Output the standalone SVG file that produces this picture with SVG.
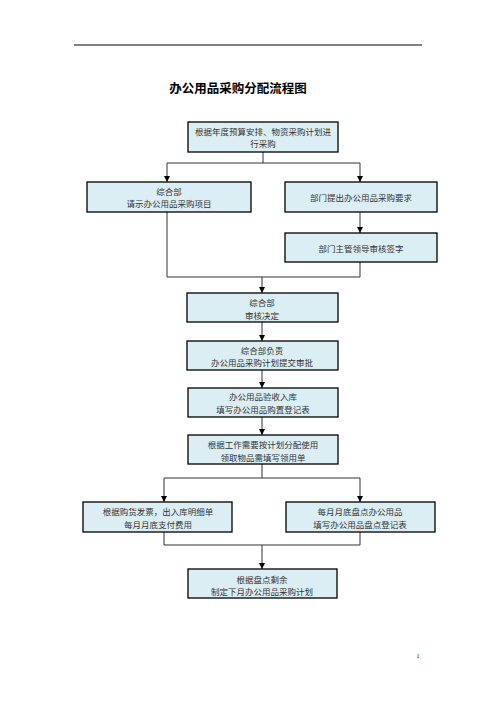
<svg xmlns="http://www.w3.org/2000/svg" width="496" height="702" viewBox="0 0 496 702">
<style>
.box{fill:#dbeef3;stroke:#000;stroke-width:1.3}
.t{font-family:"Liberation Serif","Noto Sans CJK SC",serif;font-size:8.5px;fill:#333;text-anchor:middle;dominant-baseline:central}
.c{fill:none;stroke:#333;stroke-width:1}
</style>
<defs>
<marker id="a" viewBox="0 0 6 6" refX="6" refY="3" markerWidth="6" markerHeight="6" markerUnits="userSpaceOnUse" orient="auto">
<path d="M0,0 L6,3 L0,6 Z" fill="#000"/>
</marker>
</defs>
<rect width="496" height="702" fill="#fff"/>
<line x1="74" y1="45" x2="422" y2="45" stroke="#000" stroke-width="1"/>
<text x="238" y="87" font-family="'Noto Sans CJK SC',sans-serif" font-size="12.5" font-weight="bold" text-anchor="middle" dominant-baseline="central" fill="#000">办公用品采购分配流程图</text>
<g id="connectors">
<path class="c" d="M263,152 V163 M167,163 H360"/>
<path class="c" d="M167,163 V182" marker-end="url(#a)"/>
<path class="c" d="M360,163 V182" marker-end="url(#a)"/>
<path class="c" d="M360,212 V233" marker-end="url(#a)"/>
<path class="c" d="M167,212 V277 H360 V262"/>
<path class="c" d="M262,277 V293" marker-end="url(#a)"/>
<path class="c" d="M262,322 V341" marker-end="url(#a)"/>
<path class="c" d="M262,370 V388" marker-end="url(#a)"/>
<path class="c" d="M262,417 V435" marker-end="url(#a)"/>
<path class="c" d="M262,464 V478 M164,478 H360"/>
<path class="c" d="M164,478 V502" marker-end="url(#a)"/>
<path class="c" d="M360,478 V502" marker-end="url(#a)"/>
<path class="c" d="M164,532 V545 H360 V532"/>
<path class="c" d="M262,545 V569" marker-end="url(#a)"/>
</g>
<g id="n1"><rect class="box" x="188" y="122" width="150" height="30"/><text class="t" x="263" y="132">根据年度预算安排、物资采购计划进</text><text class="t" x="263" y="144">行采购</text></g>
<g id="n2"><rect class="box" x="87" y="182" width="164" height="30"/><text class="t" x="169" y="192">综合部</text><text class="t" x="169" y="204">请示办公用品采购项目</text></g>
<g id="n3"><rect class="box" x="285" y="182" width="152" height="30"/><text class="t" x="361" y="198">部门提出办公用品采购要求</text></g>
<g id="n4"><rect class="box" x="285" y="233" width="152" height="29"/><text class="t" x="361" y="249">部门主管领导审核签字</text></g>
<g id="n5"><rect class="box" x="187" y="293" width="151" height="29"/><text class="t" x="262" y="303">综合部</text><text class="t" x="262" y="316">审核决定</text></g>
<g id="n6"><rect class="box" x="187" y="341" width="151" height="29"/><text class="t" x="262" y="351">综合部负责</text><text class="t" x="262" y="363">办公用品采购计划提交审批</text></g>
<g id="n7"><rect class="box" x="188" y="388" width="150" height="29"/><text class="t" x="263" y="397">办公用品验收入库</text><text class="t" x="263" y="410">填写办公用品购置登记表</text></g>
<g id="n8"><rect class="box" x="188" y="435" width="150" height="29"/><text class="t" x="263" y="445">根据工作需要按计划分配使用</text><text class="t" x="263" y="458">领取物品需填写领用单</text></g>
<g id="n9"><rect class="box" x="83" y="502" width="149" height="30"/><text class="t" x="158" y="512">根据购货发票，出入库明细单</text><text class="t" x="158" y="525">每月月底支付费用</text></g>
<g id="n10"><rect class="box" x="286" y="502" width="149" height="30"/><text class="t" x="360" y="512">每月月底盘点办公用品</text><text class="t" x="360" y="525">填写办公用品盘点登记表</text></g>
<g id="n11"><rect class="box" x="188" y="569" width="149" height="29"/><text class="t" x="262" y="580">根据盘点剩余</text><text class="t" x="262" y="592">制定下月办公用品采购计划</text></g>
<text x="418" y="656" font-family="'Liberation Serif',serif" font-size="6" text-anchor="middle" dominant-baseline="central" fill="#000">1</text>
</svg>
